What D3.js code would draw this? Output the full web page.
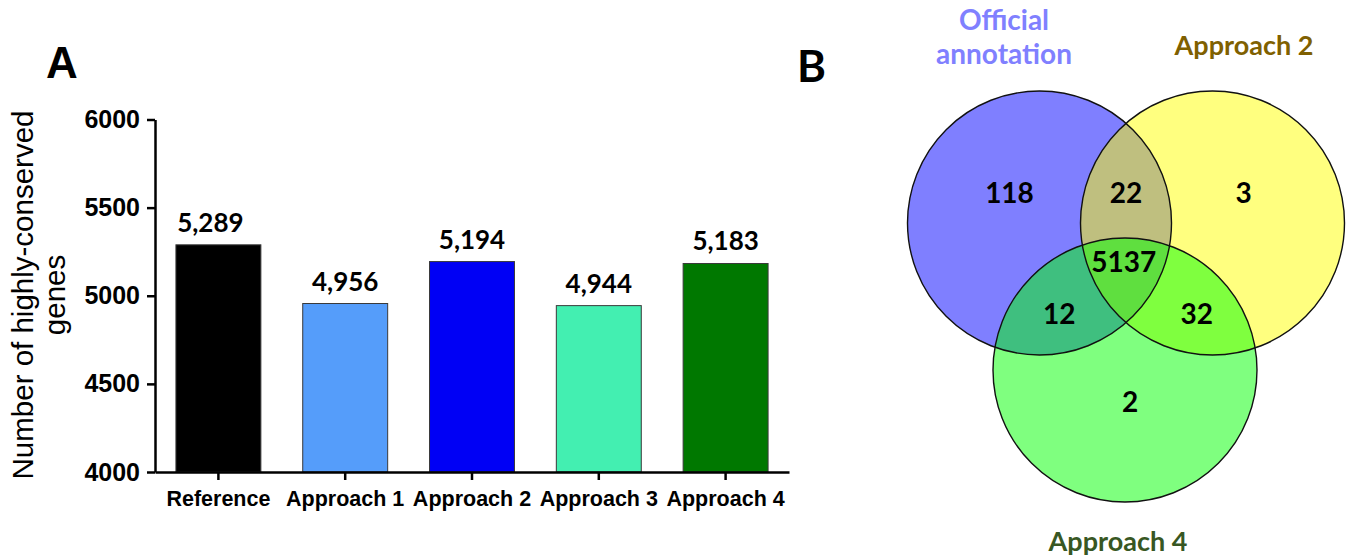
<!DOCTYPE html>
<html>
<head>
<meta charset="utf-8">
<script src="https://cdn.jsdelivr.net/npm/d3@7"></script>
<style>
  html, body { margin: 0; padding: 0; background: #fff; }
  svg { display: block; }
</style>
</head>
<body>
<svg id="fig" width="1349" height="560"></svg>
<script>
// Panel A: highly-conserved gene counts per gene set
const categories = ["Reference", "Approach 1", "Approach 2", "Approach 3", "Approach 4"];
const geneCounts = [5289, 4956, 5194, 4944, 5183];
const barColors = ["#000000", "#559DFA", "#0000F5", "#43EFB1", "#007800"];
const yTicks = [4000, 4500, 5000, 5500, 6000];
const yTitleLines = ["Number of highly-conserved", "genes"];

// Panel B: overlap of the three gene sets
const vennSets = ["Official annotation", "Approach 2", "Approach 4"];
const vennFills = ["#0000FF", "#FFFF00", "#00FF00"];
const vennTitleColors = ["#8080FF", "#7F6000", "#385723"];
const regionSets = [[0], [1], [2], [0, 1], [0, 2], [1, 2], [0, 1, 2]];
const regionCounts = [118, 3, 2, 22, 12, 32, 5137];

const svg = d3.select("#fig");
const arial = "'Liberation Sans', Arial, Helvetica, sans-serif";
const calibri = "Lato, Carlito, Calibri, sans-serif";

// ---------- Panel A ----------
const x = d3.scaleBand().domain(categories).range([155, 789]).paddingInner(0.33).paddingOuter(0.165);
const y = d3.scaleLinear().domain([4000, 6000]).range([472, 119.5]);

const gA = svg.append("g");

gA.selectAll("rect.bar")
  .data(categories)
  .join("rect")
  .attr("class", "bar")
  .attr("x", d => x(d))
  .attr("width", x.bandwidth())
  .attr("y", (d, i) => y(geneCounts[i]))
  .attr("height", (d, i) => y(4000) - y(geneCounts[i]))
  .attr("fill", (d, i) => barColors[i])
  .attr("stroke", "#3a3a3a")
  .attr("stroke-width", 1);

gA.selectAll("text.val")
  .data(categories)
  .join("text")
  .attr("class", "val")
  .attr("x", (d, i) => x(d) + x.bandwidth() / 2 + (i === 0 ? -8 : 0))
  .attr("y", (d, i) => y(geneCounts[i]) - 13)
  .attr("text-anchor", "middle")
  .attr("font-family", calibri)
  .attr("font-weight", 700)
  .attr("font-size", 26)
  .attr("fill", "#000")
  .text((d, i) => d3.format(",")(geneCounts[i]));

const yAxis = gA.append("g")
  .attr("transform", "translate(155,0)")
  .call(d3.axisLeft(y).tickValues(yTicks).tickFormat(d3.format("d")).tickSize(8).tickSizeOuter(0).tickPadding(7));
yAxis.select(".domain").attr("stroke", "#000").attr("stroke-width", 2.5);
yAxis.selectAll(".tick line").attr("stroke", "#000").attr("stroke-width", 2.5);
yAxis.selectAll(".tick text")
  .attr("font-family", arial).attr("font-weight", 700).attr("font-size", 25).attr("fill", "#000");

const xAxis = gA.append("g")
  .attr("transform", "translate(0,472)")
  .call(d3.axisBottom(x).tickSize(8).tickSizeOuter(0));
xAxis.select(".domain").attr("stroke", "#000").attr("stroke-width", 2.5);
xAxis.selectAll(".tick line").attr("stroke", "#000").attr("stroke-width", 2.5);
xAxis.selectAll(".tick text")
  .attr("y", 34).attr("dy", 0)
  .attr("font-family", arial).attr("font-weight", 700).attr("font-size", 21.5).attr("fill", "#000");

const yTitle = gA.append("text")
  .attr("transform", "translate(0,295) rotate(-90)")
  .attr("text-anchor", "middle")
  .attr("font-family", arial)
  .attr("font-size", 29.5)
  .attr("fill", "#000");
yTitle.selectAll("tspan")
  .data(yTitleLines)
  .join("tspan")
  .attr("x", 0)
  .attr("y", (d, i) => 33 + i * 32)
  .text(d => d);

svg.append("text")
  .attr("x", 46).attr("y", 78)
  .attr("font-family", arial).attr("font-weight", 700).attr("font-size", 44)
  .text("A");

// ---------- Panel B ----------
const vennCx = 1126, vennCy = 223, vennGap = 173, vennDrop = 147, vennR = 132;
const centers = [
  [vennCx - vennGap / 2, vennCy],
  [vennCx + vennGap / 2, vennCy],
  [vennCx - 1, vennCy + vennDrop]
];

const gB = svg.append("g");
gB.selectAll("circle")
  .data(vennSets)
  .join("circle")
  .attr("cx", (d, i) => centers[i][0])
  .attr("cy", (d, i) => centers[i][1])
  .attr("r", vennR)
  .attr("fill", (d, i) => vennFills[i])
  .attr("fill-opacity", 0.5)
  .attr("stroke", "none");
gB.selectAll("circle.edge")
  .data(vennSets)
  .join("circle")
  .attr("class", "edge")
  .attr("cx", (d, i) => centers[i][0])
  .attr("cy", (d, i) => centers[i][1])
  .attr("r", vennR)
  .attr("fill", "none")
  .attr("stroke", "#111")
  .attr("stroke-width", 1.4);

// count labels sit near the mean of the member circle centres, nudged into their region
const regionNudge = [[-30, -20], [31, -20], [5, 42], [0, -20], [-23, 27], [28, 27], [-2, 0]];
gB.selectAll("text.count")
  .data(regionCounts)
  .join("text")
  .attr("class", "count")
  .attr("x", (d, i) => d3.mean(regionSets[i], s => centers[s][0]) + regionNudge[i][0])
  .attr("y", (d, i) => d3.mean(regionSets[i], s => centers[s][1]) + regionNudge[i][1])
  .attr("text-anchor", "middle")
  .attr("font-family", calibri)
  .attr("font-weight", 700)
  .attr("font-size", 28)
  .attr("fill", "#000")
  .text(d => d);

// set titles
const titleLines = [["Official", "annotation"], ["Approach 2"], ["Approach 4"]];
const titleAnchor = [[1004, 30], [1244, 55], [1118, 551]];
vennSets.forEach((name, i) => {
  const t = gB.append("text")
    .attr("text-anchor", "middle")
    .attr("font-family", calibri)
    .attr("font-weight", 700)
    .attr("font-size", i === 0 ? 28 : 27)
    .attr("fill", vennTitleColors[i]);
  t.selectAll("tspan")
    .data(titleLines[i])
    .join("tspan")
    .attr("x", titleAnchor[i][0])
    .attr("y", (d, k) => titleAnchor[i][1] + k * 34)
    .text(d => d);
});

svg.append("text")
  .attr("x", 797).attr("y", 82)
  .attr("font-family", calibri).attr("font-weight", 700).attr("font-size", 44)
  .text("B");
</script>
</body>
</html>
